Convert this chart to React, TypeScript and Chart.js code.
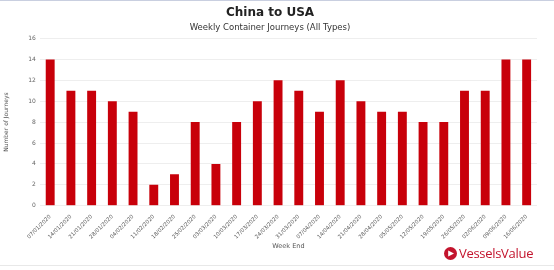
import React, { useEffect, useRef } from "react";
import { Chart, registerables } from "chart.js";

Chart.register(...registerables);

const weekEnds = [
  "07/01/2020", "14/01/2020", "21/01/2020", "28/01/2020", "04/02/2020", "11/02/2020",
  "18/02/2020", "25/02/2020", "03/03/2020", "10/03/2020", "17/03/2020", "24/03/2020",
  "31/03/2020", "07/04/2020", "14/04/2020", "21/04/2020", "28/04/2020", "05/05/2020",
  "12/05/2020", "19/05/2020", "26/05/2020", "02/06/2020", "09/06/2020", "16/06/2020",
];
const journeys = [14, 11, 11, 10, 9, 2, 3, 8, 4, 8, 10, 12, 11, 9, 12, 10, 9, 9, 8, 8, 11, 11, 14, 14];

const FONT = "'DejaVu Sans', Verdana, sans-serif";

export default function App() {
  const ref = useRef<HTMLCanvasElement>(null);
  useEffect(() => {
    if (!ref.current) return;
    const chart = new Chart(ref.current, {
      type: "bar",
      data: {
        labels: weekEnds,
        datasets: [
          {
            label: "Journeys",
            data: journeys,
            backgroundColor: "#c8000a",
            barPercentage: 0.43,
            categoryPercentage: 1,
          },
        ],
      },
      options: {
        animation: false,
        responsive: false,
        maintainAspectRatio: false,
        layout: { padding: { left: 3, right: 17, top: 0, bottom: 20 } },
        plugins: {
          legend: { display: false },
          tooltip: { enabled: false },
          title: {
            display: true,
            text: "China to USA",
            color: "#222",
            font: { family: FONT, size: 12, weight: "bold" },
            padding: { top: 6, bottom: 0 },
          },
          subtitle: {
            display: true,
            text: "Weekly Container Journeys (All Types)",
            color: "#333",
            font: { family: FONT, size: 8.5 },
            padding: { top: 2, bottom: 6 },
          },
        },
        scales: {
          x: {
            grid: { display: false },
            border: { display: false },
            ticks: {
              maxRotation: 45,
              minRotation: 45,
              autoSkip: false,
              color: "#555",
              font: { family: FONT, size: 5.4 },
              padding: 0,
            },
            title: {
              display: true,
              text: "Week End",
              color: "#555",
              font: { family: FONT, size: 6.5 },
              padding: { top: 2, bottom: 0 },
            },
          },
          y: {
            min: 0,
            max: 16,
            grid: { color: "#eeeeee", drawTicks: false },
            border: { display: false },
            ticks: {
              stepSize: 2,
              color: "#666",
              font: { family: FONT, size: 6 },
              padding: 4,
            },
            title: {
              display: true,
              text: "Number of Journeys",
              color: "#555",
              font: { family: FONT, size: 6 },
              padding: { top: 0, bottom: 14 },
            },
          },
        },
      },
    });
    return () => chart.destroy();
  }, []);

  return (
    <div style={{ position: "absolute", left: 0, top: 0, width: 554, height: 270, background: "#fff", overflow: "hidden" }}>
      <canvas ref={ref} width={554} height={270} style={{ position: "absolute", left: 0, top: 0, width: 554, height: 270 }} />
      <div style={{ position: "absolute", left: 0, top: 0, width: 554, height: 1, background: "#c9cfe0" }} />
      <div style={{ position: "absolute", left: 0, top: 265, width: 554, height: 1, background: "#e8e8e8" }} />
      <div
        style={{
          position: "absolute",
          left: 444,
          top: 244,
          display: "flex",
          alignItems: "center",
          fontFamily: "'Open Sans', 'DejaVu Sans', sans-serif",
          fontSize: 13,
          color: "#c3142d",
          letterSpacing: -0.3,
        }}
      >
        <svg width="13" height="13" viewBox="0 0 13 13" style={{ marginRight: 2 }}>
          <circle cx="6.5" cy="6.5" r="6.5" fill="#c3142d" />
          <path d="M4.2 3.6 L10 6.5 L4.2 9.6 Z" fill="#fff" />
        </svg>
        <span>VesselsValue</span>
      </div>
    </div>
  );
}
